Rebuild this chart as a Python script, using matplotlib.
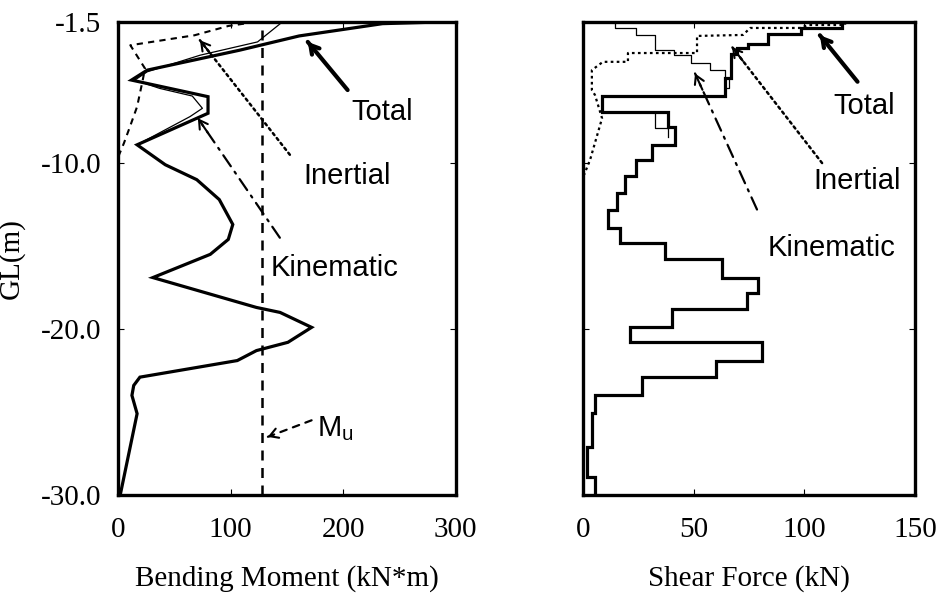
import matplotlib
matplotlib.use('Agg')

import numpy as np
import matplotlib.pyplot as plt

plt.rcParams['font.family'] = ['Liberation Serif', 'DejaVu Serif']
plt.rcParams['mathtext.fontset'] = 'custom'
plt.rcParams['mathtext.rm'] = 'Liberation Sans'

# ---- bending moment profiles (depth GL in m, moment in kN*m)
bm_total_gl = [-1.5, -1.6, -2.34, -3.2, -4.4, -5.0, -6.0, -7.0, -8.9, -10.1, -11.0, -12.2,
               -13.7, -14.6, -15.5, -16.9, -18.7, -19.0, -19.9, -20.8, -21.3, -21.9,
               -22.9, -23.4, -24.0, -25.1, -30.0]
bm_total = [285, 235, 161, 108, 26, 12, 80, 80, 17, 42, 70, 90,
            102, 98, 82, 31, 123, 144, 172, 151, 123, 106,
            19.5, 14, 12.4, 17, 2]

bm_inert_gl = [-1.5, -1.74, -2.3, -2.9, -4.3, -5.0, -6.6, -7.8, -8.8, -9.5, -10.0]
bm_inert = [122, 98, 68, 11, 24, 22, 17, 10.7, 5.3, 1, 0]

bm_kin_gl = [-1.5, -2.1, -2.7, -3.5, -4.5, -5.0, -5.5, -5.96, -6.7, -7.2, -8.9]
bm_kin = [146, 135, 124, 73, 26, 15, 37, 66, 75, 64, 17]

mu = 128  # ultimate moment

# ---- shear force profiles (step values between depth edges)
sf_total_edges = [-1.5, -1.86, -2.2, -2.8, -3.07, -3.4, -4.9, -5.95, -6.9, -7.8, -8.9, -9.8,
                  -10.8, -11.8, -12.8, -13.9, -14.8, -15.8, -16.9, -17.8, -18.8, -19.9,
                  -20.8, -21.9, -22.9, -24.0, -25.05, -27.1, -28.9, -30.0]
sf_total = [117, 98.6, 83.6, 74.6, 69.6, 67, 64, 8.6, 38.4, 41.6, 31, 24,
            19, 15.4, 11.3, 16.7, 37, 62.8, 79, 74, 40, 21,
            81, 60, 26.6, 5.4, 4, 1.8, 5.4]

sf_kin_edges = [-1.5, -1.86, -2.3, -3.2, -3.5, -3.95, -4.4, -4.9, -5.5, -5.95, -6.9, -7.9, -8.4]
sf_kin = [14.5, 24, 32.5, 41, 49, 57.4, 64, 66, 64, 8.6, 32.5, 38.4]

sf_inert_gl = [-1.5, -1.68, -1.68, -1.86, -1.86, -2.28, -2.34, -3.37, -3.37, -3.9, -3.9,
               -4.4, -5.6, -5.9, -7.3, -9.8, -10.7]
sf_inert = [118.4, 118.4, 101.7, 98, 75.5, 72.3, 51.5, 51.5, 20.3, 20.3, 9,
            4, 4, 5.4, 8.6, 3.2, 0.5]


def steps(edges, vals):
    e = np.asarray(edges)
    v = np.asarray(vals)
    ys = np.column_stack([e[:-1], e[1:]]).ravel()
    xs = np.repeat(v, 2)
    return xs, ys


def arrow(ax, tip, tail, ls='-', lw=1.6, head_lw=None):
    # shaft
    ax.annotate('', xy=tip, xytext=tail,
                arrowprops=dict(arrowstyle='-', lw=lw, linestyle=ls, color='k',
                                shrinkA=0, shrinkB=0))
    # solid head
    t = np.array(tip, float)
    s = np.array(tail, float)
    back = t + (s - t) * 0.12
    ax.annotate('', xy=tip, xytext=tuple(back),
                arrowprops=dict(arrowstyle='->,head_length=0.6,head_width=0.35',
                                lw=head_lw or lw, color='k', shrinkA=0, shrinkB=0))


fig = plt.figure(figsize=(9.46, 6.01), dpi=100)
ax1 = fig.add_axes([0.1247, 0.1764, 0.357, 0.787])
ax2 = fig.add_axes([0.6163, 0.1764, 0.351, 0.787])

sans = ['Liberation Sans', 'DejaVu Sans']
fs_note = 21

# left panel
ax1.plot(bm_kin, bm_kin_gl, color='k', lw=0.9)
ax1.plot(bm_inert, bm_inert_gl, color='k', lw=1.5, dashes=(3, 2.5))
ax1.plot(bm_total, bm_total_gl, color='k', lw=2.3, solid_joinstyle='miter')
ax1.axvline(mu, color='k', lw=1.8, dashes=(4, 3))

ax1.text(235, -6.9, 'Total', family=sans, fontsize=fs_note, ha='center', va='center')
ax1.text(204, -10.8, 'Inertial', family=sans, fontsize=fs_note, ha='center', va='center')
ax1.text(192, -16.3, 'Kinematic', family=sans, fontsize=fs_note, ha='center', va='center')
ax1.text(177, -26.0, r'M$_\mathregular{u}$', family=sans, fontsize=fs_note, ha='left', va='center')

arrow(ax1, (168.6, -2.7), (204, -5.6), ls='-', lw=3.0)
arrow(ax1, (72.8, -2.6), (152.7, -9.5), ls=(0, (1, 1.5)), lw=1.8, head_lw=1.5)
arrow(ax1, (71, -7.3), (143.8, -14.5), ls=(0, (6, 3, 1, 3)), lw=1.6, head_lw=1.5)
arrow(ax1, (133, -26.5), (172, -25.5), ls=(0, (3, 3)), lw=1.6, head_lw=1.5)

ax1.set_xlim(0, 300)
ax1.set_ylim(-30, -1.5)
ax1.set_xticks([0, 100, 200, 300])
ax1.set_xticklabels(['0', '100', '200', '300'])
ax1.set_yticks([-1.5, -10, -20, -30])
ax1.set_yticklabels(['-1.5', '-10.0', '-20.0', '-30.0'])
ax1.set_xlabel('Bending Moment (kN*m)', fontsize=21, labelpad=16)
ax1.set_ylabel('GL(m)', fontsize=21)
ax1.yaxis.set_label_coords(-0.275, 0.5)

# right panel
xs, ys = steps(sf_kin_edges, sf_kin)
ax2.plot(xs, ys, color='k', lw=0.9)
ax2.plot(sf_inert, sf_inert_gl, color='k', lw=1.6, dashes=(1.2, 1.5))
xs, ys = steps(sf_total_edges, sf_total)
ax2.plot(xs, ys, color='k', lw=2.3, solid_joinstyle='miter')

ax2.text(127, -6.56, 'Total', family=sans, fontsize=fs_note, ha='center', va='center')
ax2.text(124, -11.1, 'Inertial', family=sans, fontsize=fs_note, ha='center', va='center')
ax2.text(112.5, -15.1, 'Kinematic', family=sans, fontsize=fs_note, ha='center', va='center')

arrow(ax2, (107, -2.3), (124, -5.1), ls='-', lw=3.0)
arrow(ax2, (67.3, -3.0), (108, -10.0), ls=(0, (1, 1.5)), lw=1.8, head_lw=1.5)
arrow(ax2, (50.6, -4.6), (78.6, -12.8), ls=(0, (6, 3, 1, 3)), lw=1.6, head_lw=1.5)

ax2.set_xlim(0, 150)
ax2.set_ylim(-30, -1.5)
ax2.set_xticks([0, 50, 100, 150])
ax2.set_xticklabels(['0', '50', '100', '150'])
ax2.set_yticks([-1.5, -10, -20, -30])
ax2.set_yticklabels([])
ax2.set_xlabel('Shear Force (kN)', fontsize=21, labelpad=16)

for ax in (ax1, ax2):
    for sp in ax.spines.values():
        sp.set_linewidth(2.4)
    ax.tick_params(direction='in', length=4, width=0.8, top=True, right=True,
                   labelsize=21, pad=12)
    ax.tick_params(axis='x', pad=16)

fig.savefig('out.png', dpi=100)
